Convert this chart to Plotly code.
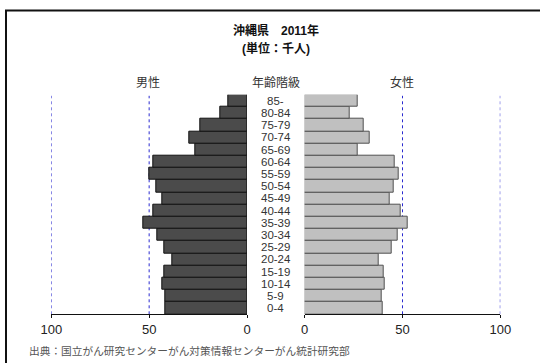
import plotly.graph_objects as go

# age groups, bottom to top
ages = ["0-4", "5-9", "10-14", "15-19", "20-24", "25-29", "30-34", "35-39", "40-44",
        "45-49", "50-54", "55-59", "60-64", "65-69", "70-74", "75-79", "80-84", "85-"]
male = [41.8, 41.8, 43.4, 42.5, 38.1, 42.5, 45.9, 52.9, 48.1,
        43.2, 46.4, 49.8, 47.8, 26.5, 29.4, 24.0, 13.9, 9.5]
female = [39.9, 39.2, 40.7, 40.4, 37.7, 44.3, 47.4, 52.7, 48.9,
          43.5, 45.3, 47.9, 46.0, 27.1, 33.1, 30.0, 22.8, 27.3]
tick_vals = [0, 50, 100]
grid_vals = [50, 100]

W, H = 540, 363
FONT = "Liberation Sans, Arial, Noto Sans CJK JP"

fig = go.Figure()
fig.add_trace(go.Bar(x=male, y=ages, orientation="h", xaxis="x", yaxis="y",
                     marker=dict(color="#4b4b4b", line=dict(color="#111111", width=1)),
                     showlegend=False, hoverinfo="skip"))
fig.add_trace(go.Bar(x=female, y=ages, orientation="h", xaxis="x2", yaxis="y2",
                     marker=dict(color="#c0c0c0", line=dict(color="#505050", width=1)),
                     showlegend=False, hoverinfo="skip"))

ydom = [1 - 314.3 / H, 1 - 94.7 / H]
common_x = dict(tickvals=tick_vals, showgrid=False, zeroline=False, showline=True,
                linecolor="#111111", linewidth=1, ticks="outside", ticklen=3,
                tickcolor="#111111", tickfont=dict(size=13, color="#222222"),
                fixedrange=True, automargin=False)
fig.update_layout(
    width=W, height=H,
    margin=dict(l=0, r=0, t=0, b=0, autoexpand=False),
    paper_bgcolor="white", plot_bgcolor="white",
    font=dict(family=FONT, color="#333333"),
    bargap=0,
    xaxis=dict(common_x, domain=[51.3 / W, 247 / W], range=[100, 0], anchor="y"),
    xaxis2=dict(common_x, domain=[304.7 / W, 500.3 / W], range=[0, 100], anchor="y2"),
    yaxis=dict(domain=ydom, range=[-0.5, 17.5], visible=False, type="category", fixedrange=True),
    yaxis2=dict(domain=ydom, range=[-0.5, 17.5], visible=False, type="category", anchor="x2",
                fixedrange=True),
)

# dotted blue guide lines at 50 and 100 on both sides
for xr, yr in [("x", "y domain"), ("x2", "y2 domain")]:
    for v in grid_vals:
        fig.add_shape(type="line", xref=xr, yref=yr, x0=v, x1=v, y0=0, y1=0.995,
                      line=dict(color="#2a2ad0", width=1, dash="dot"), layer="below")

# age labels in the middle column
for a in ages:
    fig.add_annotation(x=275.5 / W, xref="paper", y=a, yref="y", text=a, showarrow=False,
                       font=dict(size=11.5, color="#333333"), xanchor="center", yanchor="middle")

texts = [
    ("<b>沖縄県　2011年</b>", 275.5, 31, 12, "#111111"),
    ("<b>(単位：千人)</b>", 275.5, 48, 12, "#111111"),
    ("男性", 148, 83, 12, "#333333"),
    ("年齢階級", 275.5, 83, 12, "#333333"),
    ("女性", 402, 83, 12, "#333333"),
]
for t, x, y, s, c in texts:
    fig.add_annotation(x=x / W, y=1 - y / H, xref="paper", yref="paper", text=t, showarrow=False,
                       font=dict(size=s, color=c), xanchor="center", yanchor="middle")

fig.add_annotation(x=27 / W, y=1 - 350.5 / H, xref="paper", yref="paper",
                   text="出典：国立がん研究センターがん対策情報センターがん統計研究部",
                   showarrow=False, font=dict(size=10.7, color="#555555"),
                   xanchor="left", yanchor="middle")

# outer frame
fig.add_shape(type="rect", xref="paper", yref="paper", x0=6 / W, x1=1.1,
              y0=-0.1, y1=1 - 10.5 / H, line=dict(color="#111111", width=2))

fig.write_html("out.html", config={"displayModeBar": False},
               post_script="document.body.style.margin='0';document.body.style.overflow='hidden';")
